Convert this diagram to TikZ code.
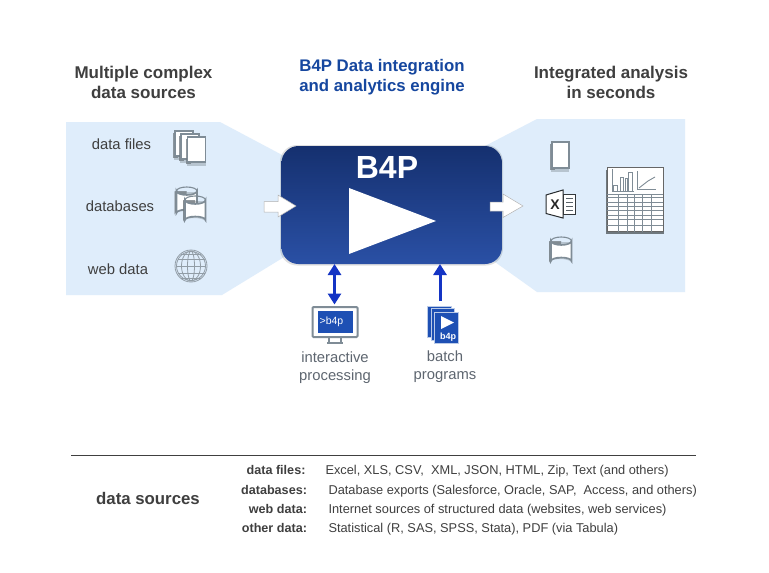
\documentclass[tikz,border=0pt]{standalone}
\usepackage{fontspec}
\setmainfont{Liberation Sans}
\usetikzlibrary{arrows.meta,shadows}
\definecolor{pale}{HTML}{DFEDFB}
\definecolor{txt}{HTML}{3F3F3F}
\definecolor{greytxt}{HTML}{5E6670}
\definecolor{navy}{HTML}{15306F}
\definecolor{royal}{HTML}{2A50A5}
\definecolor{arrowblue}{HTML}{1434C4}
\definecolor{titleblue}{HTML}{16479F}
\definecolor{icon}{HTML}{7F8C96}
\definecolor{iconshade}{HTML}{6F787E}
\definecolor{monblue}{HTML}{1E50B4}
\tikzset{
  x=1pt,y=-1pt,
  heading/.style={font=\bfseries\fontsize{17}{19.5}\selectfont,text=txt,align=center},
  bluehead/.style={font=\bfseries\fontsize{16.8}{20}\selectfont,text=titleblue,align=center},
  srclabel/.style={font=\fontsize{14.8}{17}\selectfont,text=txt},
  caption/.style={font=\fontsize{14.8}{17.5}\selectfont,text=greytxt,align=center},
  keylabel/.style={font=\bfseries\fontsize{12.6}{14}\selectfont,text=txt,anchor=base east},
  vallabel/.style={font=\fontsize{12.8}{14}\selectfont,text=txt,anchor=base west},
  sheet/.style={fill=white,draw=icon,line width=1.6pt},
  shade/.style={fill=iconshade,opacity=.75},
  softshade/.style={fill=iconshade,opacity=.35},
  bluearrow/.style={draw=arrowblue,line width=3pt,-{Triangle[length=11pt,width=13pt]}},
  bluearrow2/.style={draw=arrowblue,line width=3pt,{Triangle[length=11pt,width=13pt]}-{Triangle[length=11pt,width=13pt]}},
  flow/.style={fill=white,draw=black!30,line width=.5pt},
  thinicon/.style={draw=icon,line width=.6pt},
}
% x, y top, width, height : a drum with a soft shadow on its left and bottom
\newcommand{\drumicon}[4]{%
  \fill[softshade] (#1-2,#2+5) -- (#1-2,#2+#4-2) arc[start angle=180,end angle=360,x radius=#3/2+1,y radius=4] -- (#1+#3,#2+5) -- cycle;
  \fill[shade] (#1-1.8,#2+4) -- (#1-1.8,#2+#4-3) arc[start angle=180,end angle=270,x radius=#3/2,y radius=3.5] -- (#1+#3/2,#2+4) -- cycle;
  \path[sheet] (#1,#2+4) -- (#1,#2+#4-4) arc[start angle=180,end angle=360,x radius=#3/2,y radius=3.5] -- (#1+#3,#2+4) arc[start angle=0,end angle=180,x radius=#3/2,y radius=4] -- cycle;
  \draw[draw=icon,line width=1.1pt] (#1,#2+4) arc[start angle=180,end angle=360,x radius=#3/2,y radius=4];
}
% x, y, w, h : a page with its shadow
\newcommand{\pageicon}[4]{%
  \fill[softshade] (#1-1,#2+2) rectangle (#1+#3,#2+#4+3.5);
  \fill[shade] (#1-2,#2+1.5) rectangle (#1+3,#2+#4+2);
  \path[sheet] (#1,#2) rectangle (#1+#3,#2+#4);
}
\begin{document}
\begin{tikzpicture}
\useasboundingbox (0,0) rectangle (769,573);
\fill[white] (0,0) rectangle (769,573);
% funnels
\fill[pale] (66,122) -- (220,122) -- (285,156.5) -- (285,256.5) -- (222,295) -- (66,295) -- cycle;
\fill[pale] (485,146) -- (537,119) -- (685,119) -- (685,292) -- (537,292) -- (490,258.5) -- cycle;
% headings
\node[heading] (h1) at (143.5,82.5) {Multiple complex\\data sources};
\node[bluehead] (h2) at (382,77.5) {B4P Data integration\\and analytics engine};
\node[heading] (h3) at (611,82.5) {Integrated analysis\\in seconds};
% engine
\fill[black,opacity=.12,rounded corners=17pt] (280,145) rectangle (503,265.5);
\node[draw=none,minimum width=220.5pt,minimum height=118pt,rounded corners=17pt,
  top color=navy,bottom color=royal,inner sep=0pt] (engine) at (391.75,205) {};
\node[font=\bfseries\fontsize{32}{34}\selectfont,text=white] (b4p) at (387,167) {B4P};
\fill[white] (349,188) -- (436,221) -- (349,254) -- cycle;
% left labels
\node[srclabel] (l1) at (121.5,144) {data files};
\node[srclabel] (l2) at (120,206) {databases};
\node[srclabel] (l3) at (118,269) {web data};
% file stack icon
\pageicon{175}{131}{18}{25}
\pageicon{181}{134}{18}{25}
\pageicon{187.5}{137}{18}{25}
% databases
\drumicon{176.5}{187}{20.5}{30}
\drumicon{185}{196}{20.5}{28}
% globe
\begin{scope}[draw=icon!85,line width=.8pt]
  \draw (191,266) circle[radius=16];
  \draw (191,266) circle[radius=14.5];
  \draw (191,266) ellipse[x radius=9.5,y radius=15];
  \draw (191,266) ellipse[x radius=3.5,y radius=15];
  \draw (176,266) -- (206,266);
  \draw (177.5,259) -- (204.5,259);
  \draw (177.5,273) -- (204.5,273);
  \draw (181,254) -- (201,254);
  \draw (181,278) -- (201,278);
\end{scope}
% flow arrows
\path[flow] (264,201.5) -- (278,201.5) -- (278,195) -- (296,206) -- (278,217) -- (278,212) -- (264,212) -- cycle;
\path[flow] (490,202) -- (503,202) -- (503,194) -- (523,206) -- (503,217.5) -- (503,211) -- (490,211) -- cycle;
% right icons
\pageicon{552}{142}{17}{26}
% excel
\draw[draw=icon!40!black,line width=.8pt,fill=white] (563,194) rectangle (575,214);
\foreach \yy in {198,202,206,210}{\draw[draw=icon!70!black,line width=1pt] (566,\yy) -- (573,\yy);}
\draw[draw=icon!30!black,line width=1pt,fill=white] (546,195) -- (563,190) -- (563,218) -- (546,213.5) -- cycle;
\node[font=\bfseries\fontsize{14}{14}\selectfont,text=black!85,inner sep=0pt] (xl) at (555,204.5) {X};
% result drum
\drumicon{551}{237}{20.5}{28}
% sheet report
\fill[iconshade] (606,170) rectangle (663.5,233.5);
\draw[draw=black!60,line width=.6pt,fill=white] (607,167.5) rectangle (663,231.5);
\foreach \yy in {194,197.5,202,206,210,215,219,225}{\draw[thinicon] (607,\yy) -- (663,\yy);}
\foreach \xx in {618,627,634,642,651}{\draw[thinicon] (\xx,194) -- (\xx,231.5);}
\draw[thinicon,line width=1pt] (612,169) -- (612,191) -- (633.5,191);
\draw[thinicon,line width=.8pt] (613.5,191) rectangle (617,185) (620,191) rectangle (623.5,177) (625,191) rectangle (627.5,178) (628.5,191) rectangle (632,172);
\draw[thinicon,line width=1pt] (637,171) -- (637,189) -- (656,189);
\draw[thinicon,line width=.9pt] (639,188) -- (648,181) -- (655,177);
% monitor
\draw[draw=icon,line width=2pt,fill=white,rounded corners=1pt] (312.5,307) rectangle (357.5,337);
\fill[monblue] (317.5,310.5) rectangle (352.5,333);
\node[text=white,font=\fontsize{10.5}{11}\selectfont,inner sep=0pt] (mon) at (331.5,322) {>b4p};
\draw[draw=icon,line width=1.6pt] (329,338) -- (329,342) (341,338) -- (341,342) (327,343) -- (343,343);
% batch stack
\fill[monblue,draw=white!70!monblue,line width=.6pt] (427.5,306) rectangle (451,337);
\fill[monblue,draw=white!70!monblue,line width=.6pt] (431,308.5) rectangle (454.5,340);
\fill[monblue,draw=white!70!monblue,line width=.6pt] (434,312) rectangle (458.5,343);
\fill[white] (441,316) -- (454,322.5) -- (441,329) -- cycle;
\node[text=white,font=\bfseries\fontsize{9}{9}\selectfont,inner sep=0pt] (bt) at (448,337) {b4p};
% blue arrows
\coordinate (engI) at (334.5,264);
\coordinate (monT) at (334.5,304.5);
\coordinate (engB) at (440,264);
\coordinate (batT) at (440,301);
\draw[bluearrow2] (monT) -- (engI);
\draw[bluearrow] (batT) -- (engB);
% captions
\node[caption] (c1) at (335,367.5) {interactive\\processing};
\node[caption] (c2) at (445,366.5) {batch\\programs};
% rule
\coordinate (ruleL) at (71,455);
\coordinate (ruleR) at (696,455);
\draw[draw=black!75,line width=.8pt] (ruleL) -- (ruleR);
\node[font=\bfseries\fontsize{16.8}{20}\selectfont,text=txt] (ds) at (148,498) {data sources};
% key-values
\node[keylabel] (k1) at (309,474.5) {data files:};
\node[keylabel] (k2) at (310.5,494.5) {databases:};
\node[keylabel] (k3) at (310.5,513) {web data:};
\node[keylabel] (k4) at (310.5,532) {other data:};
\node[vallabel] (v1) at (322,474.5) {Excel, XLS, CSV,\ \ XML, JSON, HTML, Zip, Text (and others)};
\node[vallabel] (v2) at (325,494.5) {Database exports (Salesforce, Oracle, SAP,\ \ Access, and others)};
\node[vallabel] (v3) at (325,513) {Internet sources of structured data (websites, web services)};
\node[vallabel] (v4) at (325,532) {Statistical (R, SAS, SPSS, Stata), PDF (via Tabula)};
\end{tikzpicture}
\end{document}
